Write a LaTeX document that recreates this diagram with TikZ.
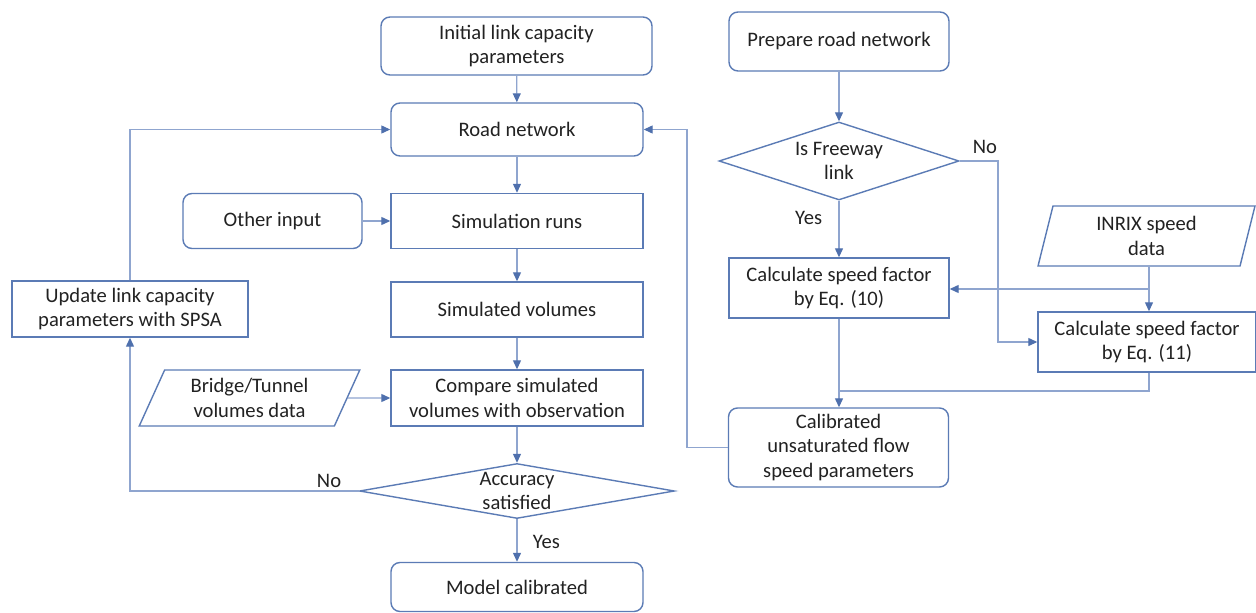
\documentclass[tikz,border=0pt]{standalone}
\usepackage{fontspec}
\setmainfont{Carlito}
\usetikzlibrary{shapes.geometric,arrows.meta}
\definecolor{edgeblue}{HTML}{5B7BB5}
\definecolor{linkblue}{HTML}{8FA5CF}
\definecolor{tipblue}{HTML}{4F70AD}
\definecolor{ink}{HTML}{222222}
\begin{document}
\begin{tikzpicture}[x=1pt,y=-1pt,
  every node/.style={font=\fontsize{20.6}{24.5}\selectfont, text=ink, align=center},
  base/.style={draw=edgeblue, line width=1.4pt, fill=white, inner sep=2pt},
  proc/.style={base, rectangle},
  term/.style={base, rectangle, rounded corners=9pt},
  dec/.style={base, diamond, inner sep=0pt},
  io/.style={base, trapezium, trapezium stretches=true,
             trapezium left angle=#1, trapezium right angle=180-#1},
  io/.default=67,
  line/.style={draw=linkblue, line width=1.2pt},
  flow/.style={line, -{Triangle[length=9pt,width=8pt,color=tipblue]}},
]
\useasboundingbox (0,0) rectangle (1256,613);

% main calibration loop
\node[term, minimum width=271pt, minimum height=58pt] (init) at (516.5,46) {Initial link capacity\\parameters};
\node[term, minimum width=252pt, minimum height=53pt] (road) at (517,129.5) {Road network};
\node[proc, minimum width=252pt, minimum height=55pt] (sim) at (517,221) {Simulation runs};
\node[term, minimum width=179pt, minimum height=55pt] (other) at (272.5,221) {Other input};
\node[proc, minimum width=252pt, minimum height=55pt] (simvol) at (517,309.5) {Simulated volumes};
\node[proc, minimum width=236pt, minimum height=56pt] (update) at (130,309) {Update link capacity\\parameters with SPSA};
\node[io, minimum width=221pt, minimum height=56pt] (bridge) at (249.5,398) {Bridge/Tunnel\\volumes data};
\node[proc, minimum width=252pt, minimum height=56pt] (compare) at (517,398) {Compare simulated\\volumes with observation};
\node[dec, minimum width=315pt, minimum height=55pt, label={center:Accuracy\\satisfied}] (acc) at (517,491) {};
\node[term, minimum width=252pt, minimum height=49pt] (model) at (517,587) {Model calibrated};

% speed parameter branch
\node[term, minimum width=220pt, minimum height=59pt] (prep) at (839,41.5) {Prepare road network};
\node[dec, minimum width=240pt, minimum height=78pt, label={center:Is Freeway\\link}] (free) at (839,161) {};
\node[proc, minimum width=220pt, minimum height=60pt] (calc10) at (839,288) {Calculate speed factor\\by Eq. (10)};
\node[io=79, minimum width=217pt, minimum height=60pt] (inrix) at (1146.5,236) {INRIX speed\\data};
\node[proc, minimum width=218pt, minimum height=60pt] (calc11) at (1147,342) {Calculate speed factor\\by Eq. (11)};
\node[term, minimum width=220pt, minimum height=79pt] (calib) at (838.5,447.5) {Calibrated\\unsaturated flow\\speed parameters};

\coordinate (split) at (1149,289);
\coordinate (merge) at (839,391);
\coordinate (noturn) at (998,161);
\coordinate (loopL) at (130,491);
\coordinate (backR) at (687,447.5);

% connectors of the loop
\draw[flow] (init) -- (road);
\draw[flow] (road) -- (sim);
\draw[flow] (other) -- (sim);
\draw[flow] (sim) -- (simvol);
\draw[flow] (simvol) -- (compare);
\draw[flow] (bridge.east) -- (compare);
\draw[flow] (compare) -- (acc);
\draw[flow] (acc) -- node[right, xshift=12pt, yshift=-1pt] {Yes} (model);
\draw[flow] (acc.west) -- node[above, pos=0.13, yshift=-1pt] {No} (loopL) -- (update);
\draw[flow] (update) |- (road.west);

% connectors of the speed branch
\draw[flow] (prep) -- (free);
\draw[flow] (free.south) -- node[left, xshift=-13pt, pos=0.3] {Yes} (calc10.north -| free.south);
\draw[flow] (free.east) -- (noturn) |- (calc11.west);
\node at (985,147) {No};
\draw[line] (inrix.south -| split) -- (split);
\draw[flow] (split) -- (calc10.east |- split);
\draw[flow] (split) -- (calc11.north -| split);
\draw[line] (calc11.south -| split) -- (split |- merge) -- (merge);
\draw[flow] (calc10.south -| merge) -- (calib.north -| merge);
\draw[flow] (calib.west) -- (backR) |- (road.east);
\end{tikzpicture}
\end{document}
